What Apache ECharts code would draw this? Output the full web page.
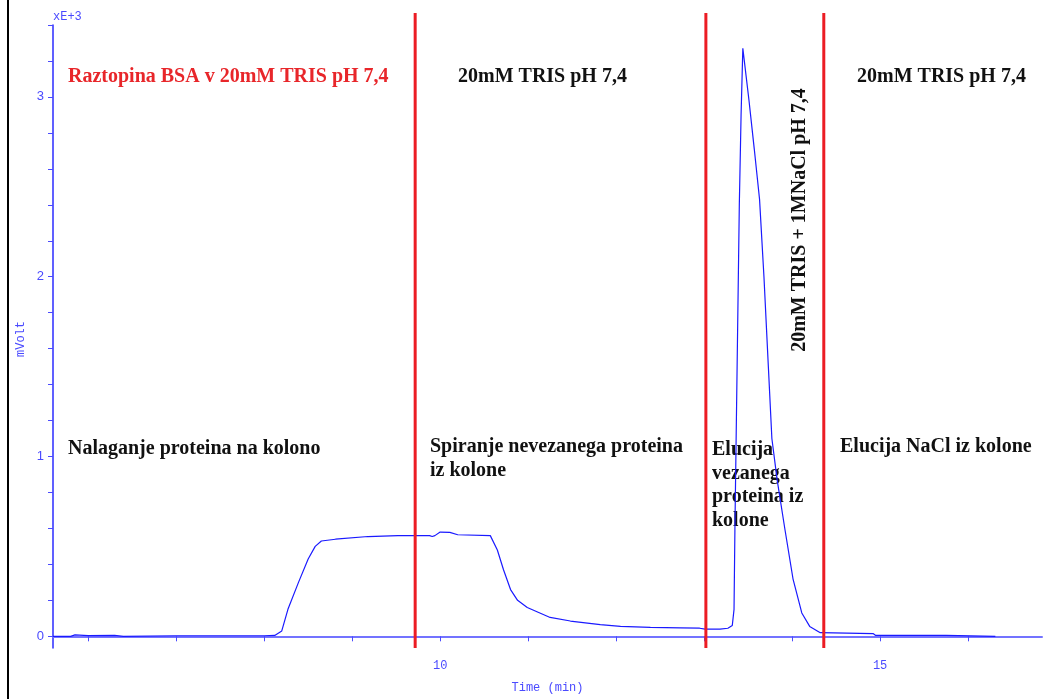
<!DOCTYPE html>
<html><head><meta charset="utf-8">
<script src="https://cdn.jsdelivr.net/npm/echarts@6/dist/echarts.min.js"></script>
<style>html,body{margin:0;padding:0;background:#fff}#c{width:1063px;height:699px}</style>
</head><body><div id="c"></div>
<script>
// Time (min)
const times = [5.6, 5.8, 5.85, 6.0, 6.3, 6.4, 7.0, 8.0, 8.12, 8.2, 8.27, 8.39, 8.5, 8.58, 8.65, 8.81, 9.18, 9.52, 9.88, 9.91, 9.94, 10.0, 10.11, 10.2, 10.57, 10.65, 10.72, 10.8, 10.88, 10.99, 11.25, 11.48, 11.82, 12.05, 12.39, 12.73, 12.95, 13.01, 13.18, 13.27, 13.32, 13.34, 13.35, 13.375, 13.4, 13.42, 13.44, 13.46, 13.51, 13.57, 13.63, 13.68, 13.73, 13.77, 13.83, 13.92, 14.01, 14.11, 14.2, 14.32, 14.92, 14.95, 15.75, 16.31];
// Signal (mVolt x 1000)
const volts = [0.0, 0.0, 0.008, 0.004, 0.005, 0.0, 0.003, 0.003, 0.005, 0.03, 0.15, 0.30, 0.43, 0.50, 0.53, 0.54, 0.555, 0.56, 0.56, 0.555, 0.56, 0.58, 0.578, 0.565, 0.56, 0.48, 0.37, 0.26, 0.20, 0.16, 0.105, 0.085, 0.065, 0.055, 0.05, 0.047, 0.045, 0.04, 0.04, 0.045, 0.06, 0.15, 0.6, 1.5, 2.4, 2.9, 3.27, 3.26, 2.98, 2.71, 2.43, 2.0, 1.5, 1.1, 0.87, 0.59, 0.32, 0.13, 0.055, 0.02, 0.015, 0.005, 0.005, 0.0];
// Buffer change markers (min)
const markers = [9.716, 13.02, 14.36];
const xTicks = [6, 7, 8, 9, 10, 11, 12, 13, 14, 15, 16];
const xLabels = [10, 15];
const yTicks = [0, 0.2, 0.4, 0.6, 0.8, 1, 1.2, 1.4, 1.6, 1.8, 2, 2.2, 2.4, 2.6, 2.8, 3, 3.2, 3.4];
const yLabels = [0, 1, 2, 3];

const axisBlue = '#4a4aff';
const mono = '"Liberation Mono","DejaVu Sans Mono",monospace';
const sans = '"Liberation Sans","DejaVu Sans",sans-serif';
const serif = '"Liberation Serif","DejaVu Serif",serif';

const chart = echarts.init(document.getElementById('c'), null, {renderer: 'canvas'});
const series = [{
  type: 'line', data: times.map((t, i) => [t, volts[i]]), symbol: 'none',
  lineStyle: {color: '#1a1aff', width: 1.2}, animation: false, z: 3
}];
markers.forEach(m => series.push({
  type: 'line', data: [[m, -0.065], [m, 3.467]], symbol: 'none', clip: false,
  lineStyle: {color: '#ec1c24', width: 3}, animation: false, z: 4
}));

const txt = (x, y, s, extra) => Object.assign({
  type: 'text', x: x, y: y,
  style: Object.assign({text: s, font: 'bold 20px ' + serif, fill: '#111', textVerticalAlign: 'middle', lineHeight: 23.7}, extra || {})
});

chart.setOption({
  animation: false,
  grid: {left: 53, right: 21, top: 25, bottom: 50},
  xAxis: {
    type: 'value', min: 5.6, max: 16.84,
    name: 'Time (min)', nameLocation: 'middle', nameGap: 34,
    nameTextStyle: {color: axisBlue, fontFamily: mono, fontSize: 12},
    axisLine: {show: true, lineStyle: {color: '#7373ff', width: 2}},
    axisTick: {show: true, length: 5, inside: false, customValues: xTicks, lineStyle: {color: axisBlue}},
    axisLabel: {customValues: xLabels, color: axisBlue, fontFamily: mono, fontSize: 12, margin: 12},
    splitLine: {show: false}
  },
  yAxis: {
    type: 'value', min: -0.065, max: 3.4,
    axisLine: {show: true, lineStyle: {color: '#2b2bff', width: 1.5}},
    axisTick: {show: true, length: 5, customValues: yTicks, lineStyle: {color: axisBlue}},
    axisLabel: {customValues: yLabels, color: axisBlue, fontFamily: sans, fontSize: 13, margin: 9},
    splitLine: {show: false}
  },
  series: series,
  graphic: [
    {type: 'rect', shape: {x: 7, y: 0, width: 2, height: 699}, style: {fill: '#000'}},
    {type: 'text', x: 53, y: 17, style: {text: 'xE+3', font: '12px ' + mono, fill: axisBlue, textVerticalAlign: 'middle'}},
    {type: 'text', x: 21, y: 339, rotation: Math.PI / 2, style: {text: 'mVolt', font: '12px ' + mono, fill: axisBlue, textAlign: 'center', textVerticalAlign: 'middle'}},
    txt(68, 77, 'Raztopina BSA v 20mM TRIS pH 7,4', {fill: '#e8262a'}),
    txt(458, 77, '20mM TRIS pH 7,4'),
    txt(857, 77, '20mM TRIS pH 7,4'),
    txt(68, 449, 'Nalaganje proteina na kolono'),
    txt(430, 435, 'Spiranje nevezanega proteina\niz kolone', {textVerticalAlign: 'top'}),
    txt(712, 438, 'Elucija\nvezanega\nproteina iz\nkolone', {textVerticalAlign: 'top'}),
    txt(840, 447, 'Elucija NaCl iz kolone'),
    {type: 'text', x: 800, y: 220, rotation: Math.PI / 2, style: {text: '20mM TRIS + 1MNaCl pH 7,4', font: 'bold 20px ' + serif, fill: '#111', textAlign: 'center', textVerticalAlign: 'middle'}}
  ]
});
</script></body></html>
